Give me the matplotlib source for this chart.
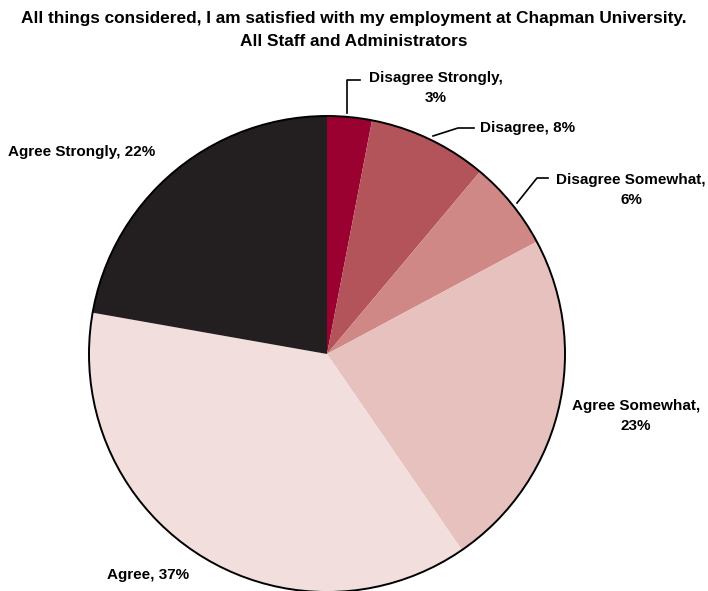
import matplotlib.pyplot as plt
from matplotlib.patches import Circle

labels = ["Disagree Strongly", "Disagree", "Disagree Somewhat",
          "Agree Somewhat", "Agree", "Agree Strongly"]
values = [3, 8, 6, 23, 37, 22]
colors = ["#9A0030", "#B3535A", "#D08886", "#E6C1BE", "#F2DEDC", "#231F20"]

title = ("All things considered, I am satisfied with my employment at Chapman University.\n"
         "All Staff and Administrators")

plt.rcParams['font.family'] = ['Liberation Sans', 'DejaVu Sans']

W, H = 708, 591
fig = plt.figure(figsize=(W / 100, H / 100), dpi=100)
ax = fig.add_axes([0, 0, 1, 1])

cx, cy, r = 327, 354, 238
# y axis is inverted, so counterclock=True draws clockwise on screen
ax.pie(values, colors=colors, startangle=-90, counterclock=True,
       center=(cx, cy), radius=r, wedgeprops=dict(linewidth=0),
       frame=True)
ax.set_xlim(0, W)
ax.set_ylim(H, 0)
ax.set_aspect('equal')
ax.axis('off')
ax.add_patch(Circle((cx, cy), r, fill=False, edgecolor='black', linewidth=1.4))

fig.text(0.5, 1 - 30 / H, title, ha='center', va='center', fontsize=12.4,
         fontweight='bold', linespacing=1.6)

txt = dict(fontsize=11, fontweight='bold', ha='center', va='center', linespacing=1.6)
lbl = [f"{l}, {v}%" for l, v in zip(labels, values)]
ax.text(436, 88, f"{labels[0]},\n{values[0]}%", **txt)
ax.text(528, 128, lbl[1], **txt)
ax.text(631, 190, f"{labels[2]},\n{values[2]}%", **txt)
ax.text(636, 416, f"{labels[3]},\n{values[3]}%", **txt)
ax.text(148, 575, lbl[4], **txt)
ax.text(82, 152, lbl[5], **txt)

# leader lines
ax.plot([347, 347, 360], [113, 80, 80], color='black', linewidth=1.2)
ax.plot([433, 458, 474], [136, 128, 128], color='black', linewidth=1.2)
ax.plot([517, 537, 548], [203, 178, 178], color='black', linewidth=1.2)

fig.savefig("out.png", dpi=100)
